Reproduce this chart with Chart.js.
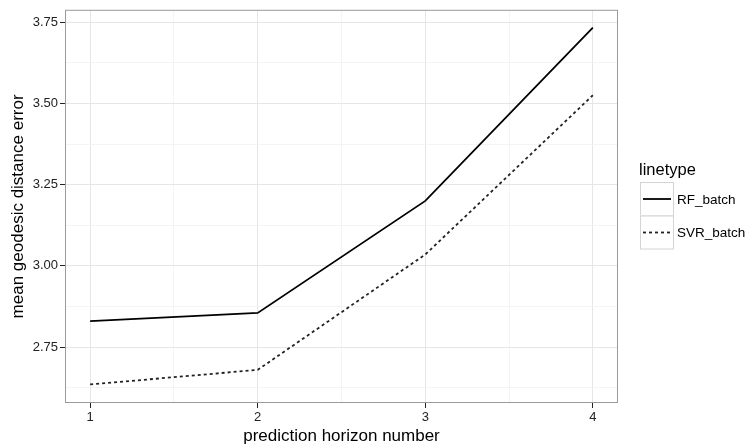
<!DOCTYPE html>
<html>
<head>
<meta charset="utf-8">
<script src="https://cdn.jsdelivr.net/npm/chart.js@4.4.0/dist/chart.umd.min.js"></script>
<style>
  html, body { margin: 0; padding: 0; background: #fff; }
  #wrap { width: 748px; height: 447px; }
</style>
</head>
<body>
<div id="wrap"><canvas id="lineChart" width="748" height="447"></canvas></div>
<script>
// data
const horizons = [1, 2, 3, 4];
const rfBatch = [2.83, 2.855, 3.2, 3.733];
const svrBatch = [2.635, 2.68, 3.035, 3.525];
const seriesNames = ['RF_batch', 'SVR_batch'];
const yTicks = [2.625, 2.75, 2.875, 3.0, 3.125, 3.25, 3.375, 3.5, 3.625, 3.75];
const xTicks = [1, 1.5, 2, 2.5, 3, 3.5, 4];

const font = "'Liberation Sans', Arial, sans-serif";

function isMajorY(v) { return Math.abs(v * 4 - Math.round(v * 4)) < 1e-6; }
function isMajorX(v) { return Math.abs(v - Math.round(v)) < 1e-6; }

// panel border + ggplot style legend
const ggExtras = {
  id: 'ggExtras',
  afterDatasetsDraw(chart) {
    const a = chart.chartArea, c = chart.ctx;
    c.save();
    c.strokeStyle = '#9a9a9a';
    c.lineWidth = 1;
    c.strokeRect(a.left + 0.5, a.top + 0.5, a.right - a.left - 1, a.bottom - a.top - 1);
    c.restore();
  },
  afterDraw(chart) {
    const c = chart.ctx;
    c.save();
    c.fillStyle = '#000';
    c.font = '16.5px ' + font;
    c.textBaseline = 'middle';
    c.fillText('linetype', 639, 170);
    const dashes = [[], [3, 3]];
    for (let i = 0; i < seriesNames.length; i++) {
      const top = 182 + i * 33.5;
      c.fillStyle = '#fff';
      c.fillRect(640, top, 33, 33);
      c.strokeStyle = '#d4d4d4';
      c.lineWidth = 1;
      c.strokeRect(640.5, top + 0.5, 33, 33);
      c.strokeStyle = i === 0 ? '#000' : '#222';
      c.lineWidth = 1.8;
      c.setLineDash(dashes[i]);
      c.beginPath();
      c.moveTo(643, top + 17);
      c.lineTo(671, top + 17);
      c.stroke();
      c.setLineDash([]);
      c.fillStyle = '#000';
      c.font = '13.5px ' + font;
      c.fillText(seriesNames[i], 677, top + 18);
    }
    c.restore();
  }
};

const ctx = document.getElementById('lineChart').getContext('2d');
new Chart(ctx, {
  type: 'line',
  data: {
    datasets: [{
      label: seriesNames[0],
      data: horizons.map((h, i) => ({ x: h, y: rfBatch[i] })),
      borderColor: '#000',
      borderWidth: 1.8,
      pointRadius: 0,
      tension: 0
    }, {
      label: seriesNames[1],
      data: horizons.map((h, i) => ({ x: h, y: svrBatch[i] })),
      borderColor: '#222',
      borderWidth: 1.8,
      borderDash: [3, 3],
      pointRadius: 0,
      tension: 0
    }]
  },
  options: {
    responsive: false,
    animation: false,
    layout: { padding: { left: 0, right: 130, top: 7, bottom: 0 } },
    plugins: { legend: { display: false }, tooltip: { enabled: false } },
    scales: {
      x: {
        type: 'linear',
        min: 0.85,
        max: 4.15,
        afterBuildTicks: s => { s.ticks = xTicks.map(v => ({ value: v })); },
        afterFit: s => { s.height = 44; },
        ticks: {
          autoSkip: false,
          maxRotation: 0,
          padding: 2,
          color: '#222',
          font: { family: font, size: 13 },
          callback: v => isMajorX(v) ? String(v) : ''
        },
        grid: {
          color: t => isMajorX(t.tick.value) ? '#e6e6e6' : '#f1f1f1',
          lineWidth: t => isMajorX(t.tick.value) ? 1 : 0.8,
          tickColor: t => isMajorX(t.tick.value) ? '#222' : 'rgba(0,0,0,0)',
          tickLength: 5
        },
        border: { display: false },
        title: {
          display: true,
          text: 'prediction horizon number',
          color: '#000',
          font: { family: font, size: 17 },
          padding: { top: 0, bottom: 0 }
        }
      },
      y: {
        type: 'linear',
        min: 2.578,
        max: 3.788,
        afterBuildTicks: s => { s.ticks = yTicks.map(v => ({ value: v })); },
        afterFit: s => { s.width = 65; },
        ticks: {
          autoSkip: false,
          padding: 2,
          color: '#222',
          font: { family: font, size: 13 },
          callback: v => isMajorY(v) ? v.toFixed(2) : ''
        },
        grid: {
          color: t => isMajorY(t.tick.value) ? '#e6e6e6' : '#f1f1f1',
          lineWidth: t => isMajorY(t.tick.value) ? 1 : 0.8,
          tickColor: t => isMajorY(t.tick.value) ? '#222' : 'rgba(0,0,0,0)',
          tickLength: 5
        },
        border: { display: false },
        title: {
          display: true,
          text: 'mean geodesic distance error',
          color: '#000',
          font: { family: font, size: 17 },
          padding: { top: 8, bottom: 0 }
        }
      }
    }
  },
  plugins: [ggExtras]
});
</script>
</body>
</html>
